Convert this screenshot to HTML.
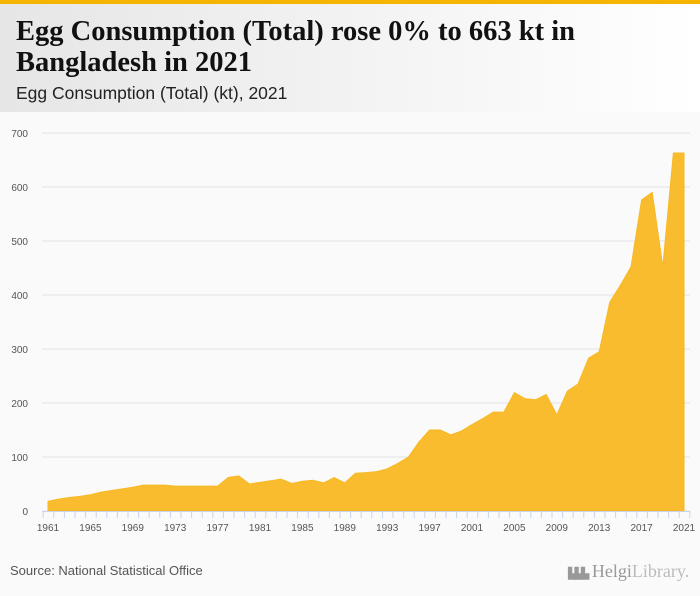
<!DOCTYPE html>
<html><head><meta charset="utf-8"><style>
body{margin:0;width:700px;height:596px;background:#fafafa;font-family:"Liberation Sans",sans-serif;overflow:hidden;position:relative}
#topbar{position:absolute;left:0;top:0;width:700px;height:4px;background:#f5b400}
#header{position:absolute;left:0;top:4px;width:700px;height:108px;background:linear-gradient(to right,#e6e6e6,#ffffff)}
#title{position:absolute;left:16px;top:12px;font-family:"Liberation Serif",serif;font-weight:bold;font-size:28.5px;line-height:31px;color:#111;white-space:nowrap}
#subtitle{position:absolute;left:16px;top:79px;font-size:17.5px;color:#222}
#source{position:absolute;left:10px;top:563px;font-size:13px;color:#555}
#logo{position:absolute;left:568px;top:561px;font-family:"Liberation Serif",serif;font-size:18px;color:#999;white-space:nowrap}
</style></head><body>
<div id="topbar"></div>
<div id="header">
<div id="title">Egg Consumption (Total) rose 0% to 663 kt in<br>Bangladesh in 2021</div>
<div id="subtitle">Egg Consumption (Total) (kt), 2021</div>
</div>
<svg id="chart" width="700" height="596" style="position:absolute;left:0;top:0"></svg>
<div id="source">Source: National Statistical Office</div>
<div id="logo"><span style="font-size:11px;letter-spacing:-2px">▙▙▙</span> Helgi<span style="color:#bbb">Library.</span></div>
<script>
const years=[];for(let y=1961;y<=2021;y++)years.push(y);
const values=[18,22,25,27,30,35,38,41,44,48,48,48,46,46,46,46,46,62,65,50,53,56,59,51,55,57,52,62,52,70,71,73,78,88,100,128,150,150,141,148,160,171,183,183,219,208,206,216,178,222,235,283,295,387,418,452,576,590,452,663,663];
const yTicks=[0,100,200,300,400,500,600,700];
const xTickLabels=[1961,1965,1969,1973,1977,1981,1985,1989,1993,1997,2001,2005,2009,2013,2017,2021];
const svg=document.getElementById('chart');const NS='http://www.w3.org/2000/svg';
const X=y=>48+(y-1961)*(684-48)/60;
const Y=v=>511-v*0.54;
function mk(t,a){const e=document.createElementNS(NS,t);for(const k in a)e.setAttribute(k,a[k]);svg.appendChild(e);return e;}
yTicks.forEach(v=>{
 const l=mk('line',{x1:42,x2:690,y1:Y(v),y2:Y(v),stroke:'#e2e2e2','stroke-width':1});
 
 
 const t=mk('text',{x:28,y:Y(v)+4,'text-anchor':'end','font-size':10,fill:'#555','font-family':'Liberation Sans, sans-serif'});
 t.textContent=v;
 
 
});
let d='M'+X(years[0])+','+Y(0);
years.forEach((y,i)=>{d+=' L'+X(y)+','+Y(values[i]);});
d+=' L'+X(years[years.length-1])+','+Y(0)+' Z';
const area=mk('path',{d:d,fill:'#f9bc2f',stroke:'#f7b924','stroke-width':1});


const ax=mk('line',{x1:42,x2:690,y1:511.5,y2:511.5,stroke:'#c8d4e8','stroke-width':1});


for(let y=1961;y<=2022;y++){
 const tk=mk('line',{x1:X(y)-5.3+0.5,x2:X(y)-5.3+0.5,y1:511,y2:518,stroke:'#c8d4e8','stroke-width':1});
 
 
}
xTickLabels.forEach(y=>{
 const t=mk('text',{x:X(y),y:531,'text-anchor':'middle','font-size':10,fill:'#555','font-family':'Liberation Sans, sans-serif'});
 t.textContent=y;
 
 
});
</script>
</body></html>
